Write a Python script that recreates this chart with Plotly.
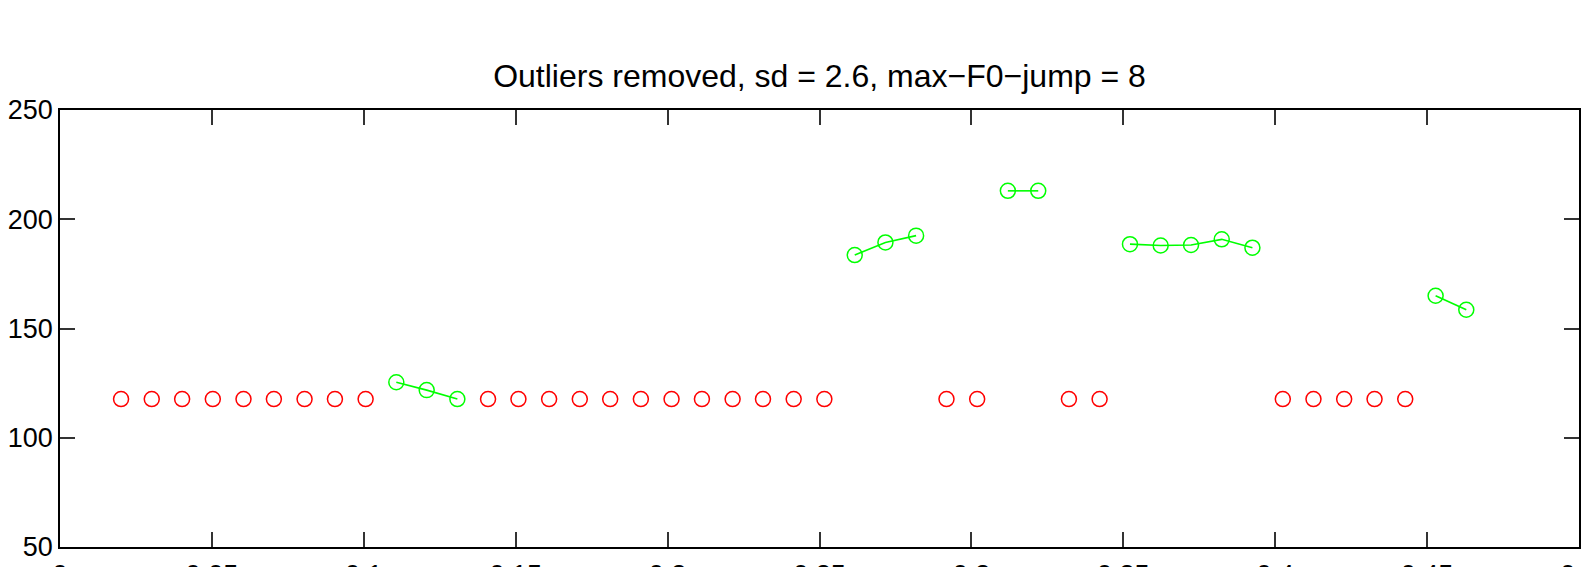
import plotly.graph_objects as go

# time (s) of each analysis frame
t = [0.0201, 0.0302, 0.0402, 0.0503, 0.0604, 0.0704, 0.0805, 0.0905, 0.1006,
     0.1107, 0.1207, 0.1308,
     0.1409, 0.1509, 0.1610, 0.1711, 0.1811, 0.1912, 0.2013, 0.2113, 0.2214,
     0.2314, 0.2415, 0.2516,
     0.2616, 0.2717, 0.2818,
     0.2918, 0.3019,
     0.3120, 0.3220,
     0.3321, 0.3422,
     0.3522, 0.3623, 0.3723, 0.3824, 0.3925,
     0.4025, 0.4126, 0.4227, 0.4327, 0.4428,
     0.4528, 0.4629]

# F0 values (Hz)
f0 = [117.7] * 9 + \
     [125.4, 121.8, 117.7] + \
     [117.7] * 12 + \
     [183.6, 189.4, 192.5] + \
     [117.7] * 2 + \
     [213.0, 213.0] + \
     [117.7] * 2 + \
     [188.6, 188.0, 188.2, 190.8, 187.0] + \
     [117.7] * 5 + \
     [165.0, 158.6]

# segment id: 0 = removed outlier, >0 = kept voiced segment
segment = [0] * 9 + [1] * 3 + [0] * 12 + [2] * 3 + [0] * 2 + [3] * 2 + \
          [0] * 2 + [4] * 5 + [0] * 5 + [5] * 2

title_text = "Outliers removed, sd = 2.6, max\u2212F0\u2212jump = 8"
x_ticks = [0, 0.05, 0.1, 0.15, 0.2, 0.25, 0.3, 0.35, 0.4, 0.45, 0.5]
x_tick_labels = ["0", "0.05", "0.1", "0.15", "0.2", "0.25", "0.3", "0.35", "0.4", "0.45", "0.5"]
y_ticks = [50, 100, 150, 200, 250]

red_x = [x for x, s in zip(t, segment) if s == 0]
red_y = [y for y, s in zip(f0, segment) if s == 0]

green_x, green_y = [], []
prev = None
for x, y, s in zip(t, f0, segment):
    if s == 0:
        continue
    if prev is not None and s != prev:
        green_x.append(None)
        green_y.append(None)
    green_x.append(x)
    green_y.append(y)
    prev = s

fig = go.Figure()
fig.add_trace(go.Scatter(
    x=red_x, y=red_y, mode="markers",
    marker=dict(symbol="circle-open", size=15, color="#ff0000",
                line=dict(width=1.5, color="#ff0000")),
    showlegend=False, hoverinfo="x+y"))
fig.add_trace(go.Scatter(
    x=green_x, y=green_y, mode="lines+markers", connectgaps=False,
    line=dict(color="#00ff00", width=1.6),
    marker=dict(symbol="circle-open", size=15, color="#00ff00",
                line=dict(width=1.5, color="#00ff00")),
    showlegend=False, hoverinfo="x+y"))

font_family = "Liberation Sans, Arial, Helvetica, sans-serif"
axis_common = dict(
    showline=True, linecolor="black", linewidth=1.5, mirror="ticks",
    ticks="inside", ticklen=15, tickwidth=1.5, tickcolor="#333333",
    showgrid=False, zeroline=False, automargin=False,
    ticklabeloverflow="allow",
    tickfont=dict(family=font_family, size=27, color="black"),
)

fig.update_layout(
    width=1591, height=567,
    margin=dict(l=52, r=20, t=102, b=28),
    paper_bgcolor="white", plot_bgcolor="white",
    title=dict(text=title_text, x=0.5, xref="paper", xanchor="center",
               y=1 - 68 / 567, yref="container", yanchor="middle",
               font=dict(family=font_family, size=32, color="black")),
    xaxis=dict(range=[0, 0.5], tickvals=x_ticks, ticktext=x_tick_labels,
               ticklabelstandoff=3, **axis_common),
    yaxis=dict(range=[50, 250], tickvals=y_ticks,
               ticklabelstandoff=0, **axis_common),
)

fig.write_html("out.html")
